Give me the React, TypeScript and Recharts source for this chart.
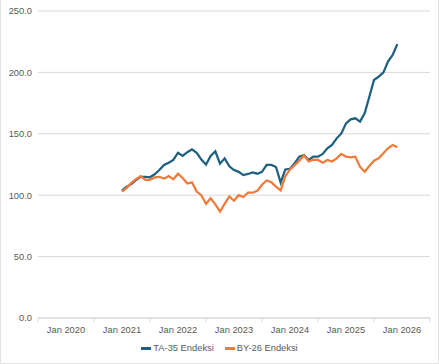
import React from "react";
import { LineChart, Line, XAxis, YAxis, CartesianGrid, Legend } from "recharts";

// months counted from Jan 2020 (= 0); first point is Jan 2021
const startMonth = 12;
const yearTicks = [0, 12, 24, 36, 48, 60, 72];
const yTicks = [0, 50, 100, 150, 200, 250];
const legendOrder = ["TA-35 Endeksi", "BY-26 Endeksi"];

const ta35 = [
  103.7, 107, 109, 112.4, 115, 115, 114.6, 117, 120.5, 124.6, 126.5, 128.7,
  134.6, 132, 135, 137.4, 134.5, 129, 125, 132, 135.8, 125.7, 130, 123.5,
  120.5, 119, 116.4, 117.3, 118.5, 117.5, 119, 124.6, 124.6, 123, 110.2, 121,
  121.5, 126, 131.4, 132.7, 128.7, 131.4, 131.4, 133.6, 138.2, 140.9, 146.3, 150.3,
  158.5, 161.8, 162.6, 159.9, 166.7, 180.2, 193.8, 196.5, 199.8, 208.8, 214.2, 223,
];

const by26 = [
  102.9, 106, 110, 113, 115.5, 112.5, 112.5, 114.5, 115, 113.5, 115.5, 113,
  117.5, 114, 109.5, 110.5, 103, 100, 93, 97.5, 92.5, 86.6, 93, 99,
  95.5, 100, 98.5, 102, 102, 103.5, 108.5, 112, 110.5, 107, 104, 115.5,
  121, 124.5, 128, 132.5, 127.5, 129, 128.7, 126.5, 128.7, 127.5, 130, 133.6,
  131.4, 130.8, 131.4, 123.2, 119.1, 123.8, 128.1, 130, 134.1, 138.2, 140.9, 139,
];

const data = ta35.map((v, i) => ({ m: startMonth + i, ta35: v, by26: by26[i] }));

const W = 439;
const H = 364;
const margin = { top: 11, right: 9, bottom: 6, left: 0 };
const yAxisW = 38;
const plotW = W - margin.left - margin.right - yAxisW;
const halfYear = (plotW * 6) / 84;

const FONT = '"Liberation Sans", Arial, sans-serif';
const TEXT = "#595959";
const GRID = "#d9d9d9";

const XTick = (props: any) => {
  const { x, y, payload, index } = props;
  return (
    <g>
      <line x1={x - halfYear} x2={x - halfYear} y1={y - 8} y2={y - 4} stroke={GRID} />
      {index === yearTicks.length - 1 && (
        <line x1={x + halfYear} x2={x + halfYear} y1={y - 8} y2={y - 4} stroke={GRID} />
      )}
      <text x={x} y={y} dy="0.71em" textAnchor="middle" fill={TEXT} fontSize={9.33} fontFamily={FONT}>
        {`Jan ${2020 + payload.value / 12}`}
      </text>
    </g>
  );
};

const LegendContent = (props: any) => {
  const items = [...(props.payload || [])].sort(
    (a: any, b: any) => legendOrder.indexOf(a.value) - legendOrder.indexOf(b.value)
  );
  return (
    <div
      style={{
        display: "flex",
        justifyContent: "center",
        paddingLeft: 20,
        height: 20,
        lineHeight: "20px",
        fontSize: 9.33,
        fontFamily: FONT,
        color: TEXT,
      }}
    >
      {items.map((p: any) => (
        <span key={p.value} style={{ display: "flex", alignItems: "center", marginRight: 11 }}>
          <span style={{ width: 10, height: 3, background: p.color, marginRight: 2 }} />
          {p.value}
        </span>
      ))}
    </div>
  );
};

export default function App() {
  return (
    <div style={{ position: "absolute", left: 0, top: 0, width: W, height: H, background: "#fff" }}>
      <LineChart width={W} height={H} data={data} margin={margin}>
        <CartesianGrid vertical={false} stroke={GRID} />
        <XAxis
          dataKey="m"
          type="number"
          domain={[-6, 78]}
          ticks={yearTicks}
          allowDataOverflow
          height={20}
          tickSize={5}
          tickMargin={3}
          tickLine={false}
          axisLine={{ stroke: GRID }}
          tick={<XTick />}
          interval={0}
        />
        <YAxis
          width={yAxisW}
          domain={[0, 250]}
          ticks={yTicks}
          tickFormatter={(v: number) => v.toFixed(1)}
          tickLine={false}
          axisLine={false}
          tickSize={0}
          tickMargin={6}
          tick={{ fill: TEXT, fontSize: 9.33, fontFamily: FONT }}
        />
        <Legend verticalAlign="bottom" height={20} content={<LegendContent />} />
        <Line
          type="linear"
          dataKey="ta35"
          name="TA-35 Endeksi"
          stroke="#1E6080"
          strokeWidth={2.25}
          dot={false}
          isAnimationActive={false}
        />
        <Line
          type="linear"
          dataKey="by26"
          name="BY-26 Endeksi"
          stroke="#EF7B3B"
          strokeWidth={2.25}
          dot={false}
          isAnimationActive={false}
        />
      </LineChart>
      <div
        style={{
          position: "absolute",
          left: 0,
          top: 0,
          width: W,
          height: H,
          boxSizing: "border-box",
          borderLeft: "1px solid #e3e3e3",
          borderRight: "1px solid #e3e3e3",
          borderBottom: "1px solid #e3e3e3",
          pointerEvents: "none",
        }}
      />
    </div>
  );
}
